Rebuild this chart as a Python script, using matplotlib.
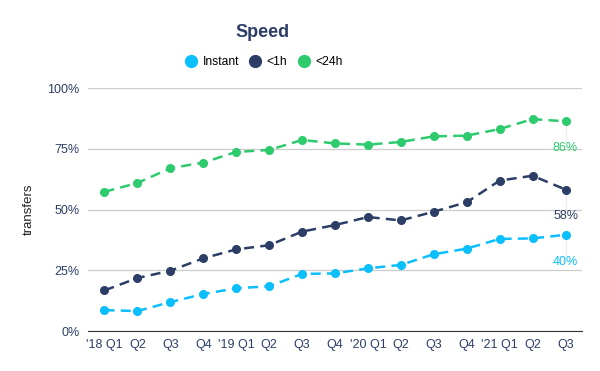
import numpy as np
import matplotlib.pyplot as plt

plt.rcParams['font.family'] = ['Liberation Sans', 'DejaVu Sans']

quarters = ["'18 Q1", "Q2", "Q3", "Q4", "'19 Q1", "Q2", "Q3", "Q4",
            "'20 Q1", "Q2", "Q3", "Q4", "'21 Q1", "Q2", "Q3"]
instant = [8.6, 8.2, 11.9, 15.2, 17.6, 18.4, 23.5, 23.7, 25.8, 27.2, 31.6, 33.9, 37.9, 38.1, 39.6]
within_1h = [16.7, 21.8, 24.8, 29.9, 33.6, 35.3, 40.9, 43.6, 46.9, 45.5, 49.1, 53.0, 61.9, 63.9, 58.2]
within_24h = [57.3, 60.9, 67.0, 69.3, 73.7, 74.5, 78.6, 77.2, 76.7, 77.8, 80.1, 80.4, 83.1, 87.2, 86.3]

cols = {'instant': '#0ABFFC', '1h': '#2C3E66', '24h': '#2DCB6E'}
navy = '#2C3E66'

fig = plt.figure(figsize=(6, 3.71), dpi=100)
ax = fig.add_axes([0.1467, 0.1078, 0.8233, 0.655])

x = np.arange(len(quarters))
series = [('Instant', instant, cols['instant']),
          ('<1h', within_1h, cols['1h']),
          ('<24h', within_24h, cols['24h'])]
for name, vals, c in series:
    ax.plot(x, vals, color=c, lw=1.8, ls=(0, (4, 2.5)), marker='o', ms=5.5, label=name)
    # leader line + end label
    last = vals[-1]
    ax.plot([x[-1], x[-1]], [last - 2, last - 8.5], color='#EEEEEE', lw=1, zorder=0)
    ax.text(x[-1], last - 11, '%d%%' % round(last), color=c, fontsize=9,
            ha='center', va='center')

ax.set_xlim(-0.5, 14.5)
ax.set_ylim(0, 100)
ax.set_yticks([0, 25, 50, 75, 100])
ax.set_yticklabels(['0%', '25%', '50%', '75%', '100%'])
ax.set_xticks(x)
ax.set_xticklabels(quarters)
ax.grid(axis='y', color='#CCCCCC', lw=0.9)
ax.set_axisbelow(True)
for s in ['top', 'right', 'left']:
    ax.spines[s].set_visible(False)
ax.spines['bottom'].set_color('#333333')
ax.tick_params(length=0, labelsize=9, colors=navy, pad=6)
ax.set_ylabel('transfers', fontsize=9.5, color='#222222', labelpad=9)

fig.text(0.437, 0.912, 'Speed', ha='center', va='center', fontsize=13,
         fontweight='bold', color=navy)
handles = [plt.Line2D([], [], ls='none', marker='o', ms=8.5, color=c) for _, _, c in series]
fig.legend(handles, [n for n, _, _ in series], loc='center', bbox_to_anchor=(0.437, 0.832),
           ncol=3, frameon=False, fontsize=8.7, handletextpad=0.2, columnspacing=0.6,
           handlelength=1.5)

fig.savefig('out.png', dpi=100)
